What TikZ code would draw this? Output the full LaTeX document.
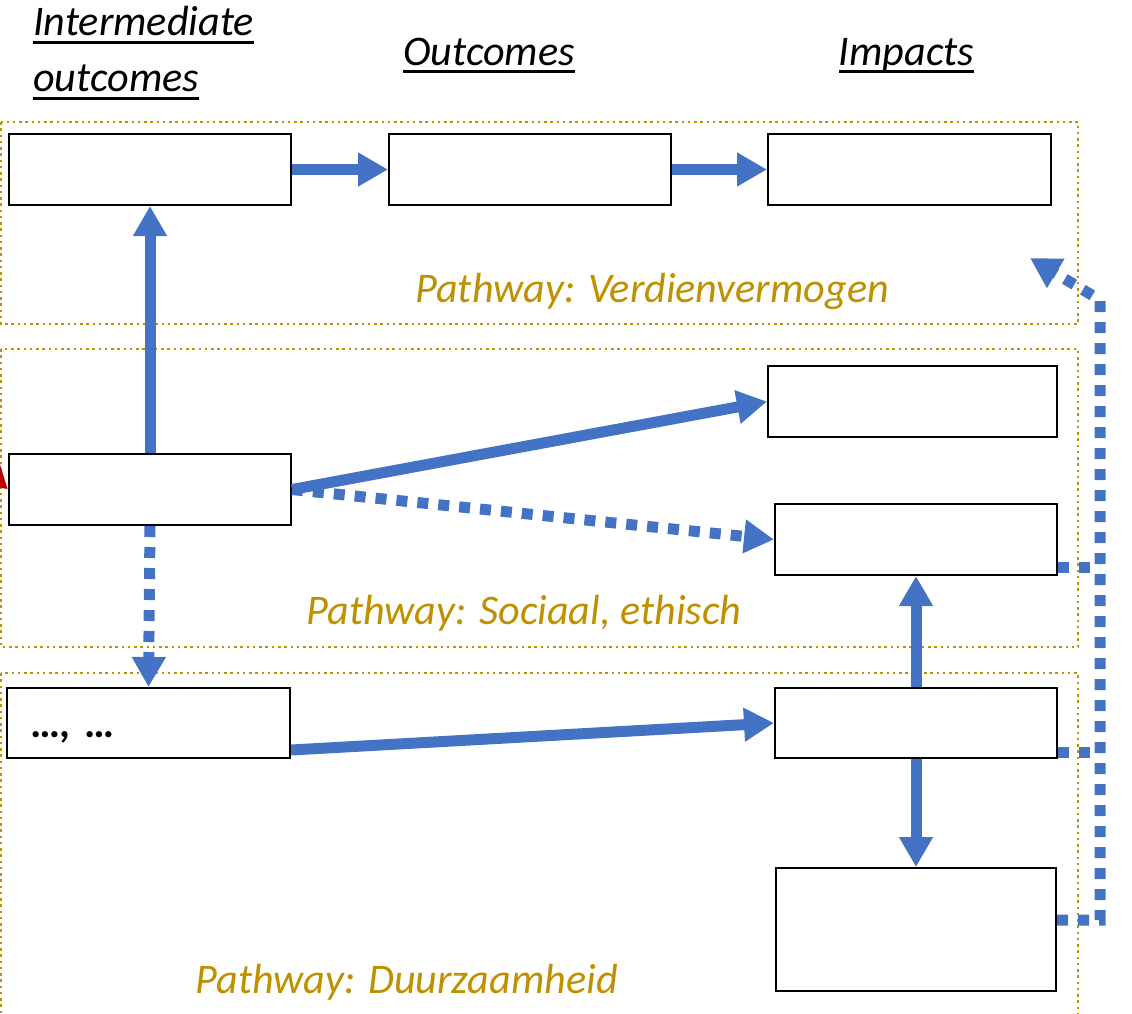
\documentclass[tikz,border=0pt]{standalone}
\usepackage{fontspec}
\setmainfont{Carlito}
\usetikzlibrary{arrows.meta,calc}
\definecolor{linkblue}{RGB}{68,114,196}
\definecolor{lanegold}{RGB}{191,144,0}
\definecolor{linkred}{RGB}{192,0,0}
\newcommand{\headul}[1]{\setbox0\hbox{#1}\rlap{\rule[-0.16cm]{\wd0}{0.06cm}}\box0}
\begin{document}
\begin{tikzpicture}[font=\fontsize{24}{28.5}\selectfont,
            box/.style={rectangle,draw,line width=0.04cm,minimum width=5.64cm,minimum height=1.42cm,inner sep=0pt},
            link/.style={-{Triangle[length=0.6cm,width=0.64cm]},line width=0.22cm,draw=linkblue},
            dotlink/.style={link,dash pattern=on 0.22cm off 0.2cm},
            dotline/.style={line width=0.22cm,draw=linkblue,dash pattern=on 0.22cm off 0.2cm},
            lane/.style={draw=lanegold,line width=0.05cm,dash pattern=on 0.05cm off 0.075cm},
            lanelabel/.style={text=lanegold,font=\fontsize{24}{28.5}\selectfont\itshape,anchor=base,inner sep=0pt},
            heading/.style={font=\fontsize{24}{28.5}\selectfont\itshape,inner sep=0pt}]
            \useasboundingbox (0,0) rectangle (22.64,-20.26);
            \clip (0,0) rectangle (22.64,-20.26);

            \draw[lane] (0.02,-2.44) rectangle (21.56,-6.48);
            \draw[lane] (0.02,-6.98) rectangle (21.56,-12.94);
            \draw[lane] (0.02,-13.46) rectangle (21.56,-20.8);

            \node[heading,anchor=north west,align=left] (hInter) at (0.66,-0.12) {\headul{Intermediate}\\[0.12cm]\headul{outcomes}};
            \node[heading,anchor=base] (hOut) at (9.78,-1.3) {\headul{Outcomes}};
            \node[heading,anchor=base] (hImp) at (18.13,-1.3) {\headul{Impacts}};

            \node[lanelabel] (lVerd) at (13.04,-6.04) {Pathway: Verdienvermogen};
            \node[lanelabel] (lSoc) at (10.48,-12.48) {Pathway: Sociaal, ethisch};
            \node[lanelabel] (lDuur) at (8.13,-19.86) {Pathway: Duurzaamheid};

            \node[box] (A1) at (3.0,-3.39) {};
            \node[box] (B1) at (10.6,-3.39) {};
            \node[box,minimum width=5.66cm] (C1) at (18.19,-3.39) {};
            \node[box] (A2) at (3.0,-9.79) {};
            \node[box,minimum width=5.78cm] (C2) at (18.25,-8.03) {};
            \node[box] (C3) at (18.32,-10.79) {};
            \node[box,minimum width=5.66cm,minimum height=1.4cm,align=left,text width=4.74cm,inner xsep=0.46cm] (A3) at (2.97,-14.46) {\smash{\raisebox{-0.28cm}{\bfseries …, …}}};
            \node[box,minimum height=1.4cm] (C4) at (18.32,-14.46) {};
            \node[box,minimum width=5.6cm,minimum height=2.46cm] (C5) at (18.32,-18.59) {};

            \coordinate (fbtop) at (22.0,-6.0);
            \coordinate (fbtip) at (20.6,-5.16);
            \coordinate (redsrc) at (-2.0,-7.8);

            \path[link] (A1) -- (B1);
            \path[link] (B1) -- (C1);
            \path[link] (A2.north) -- (A1.south);
            \path[link] (A2.east) -- (C2.west);
            \path[dotlink] (A2.east) -- (C3.west);
            \path[dotlink] (A2.south) -- (A3.north);
            \path[link] ([yshift=-0.54cm]A3.east) -- (C4.west);
            \path[link] (C4.north) -- (C3.south);
            \path[link] (C4.south) -- (C5.north);
            \path[dotline] ($(C3.east)+(0,-0.55)$) -- ($(C3.east -| fbtop)+(0,-0.55)$);
            \path[dotline] ($(C4.east)+(0,-0.58)$) -- ($(C4.east -| fbtop)+(0,-0.58)$);
            \path[dotlink] ([yshift=0.19cm]C5.east) -| (fbtop) -- (fbtip);
            \path[link,draw=linkred] (redsrc) -- (A2.west);

          \end{tikzpicture}
\end{document}
